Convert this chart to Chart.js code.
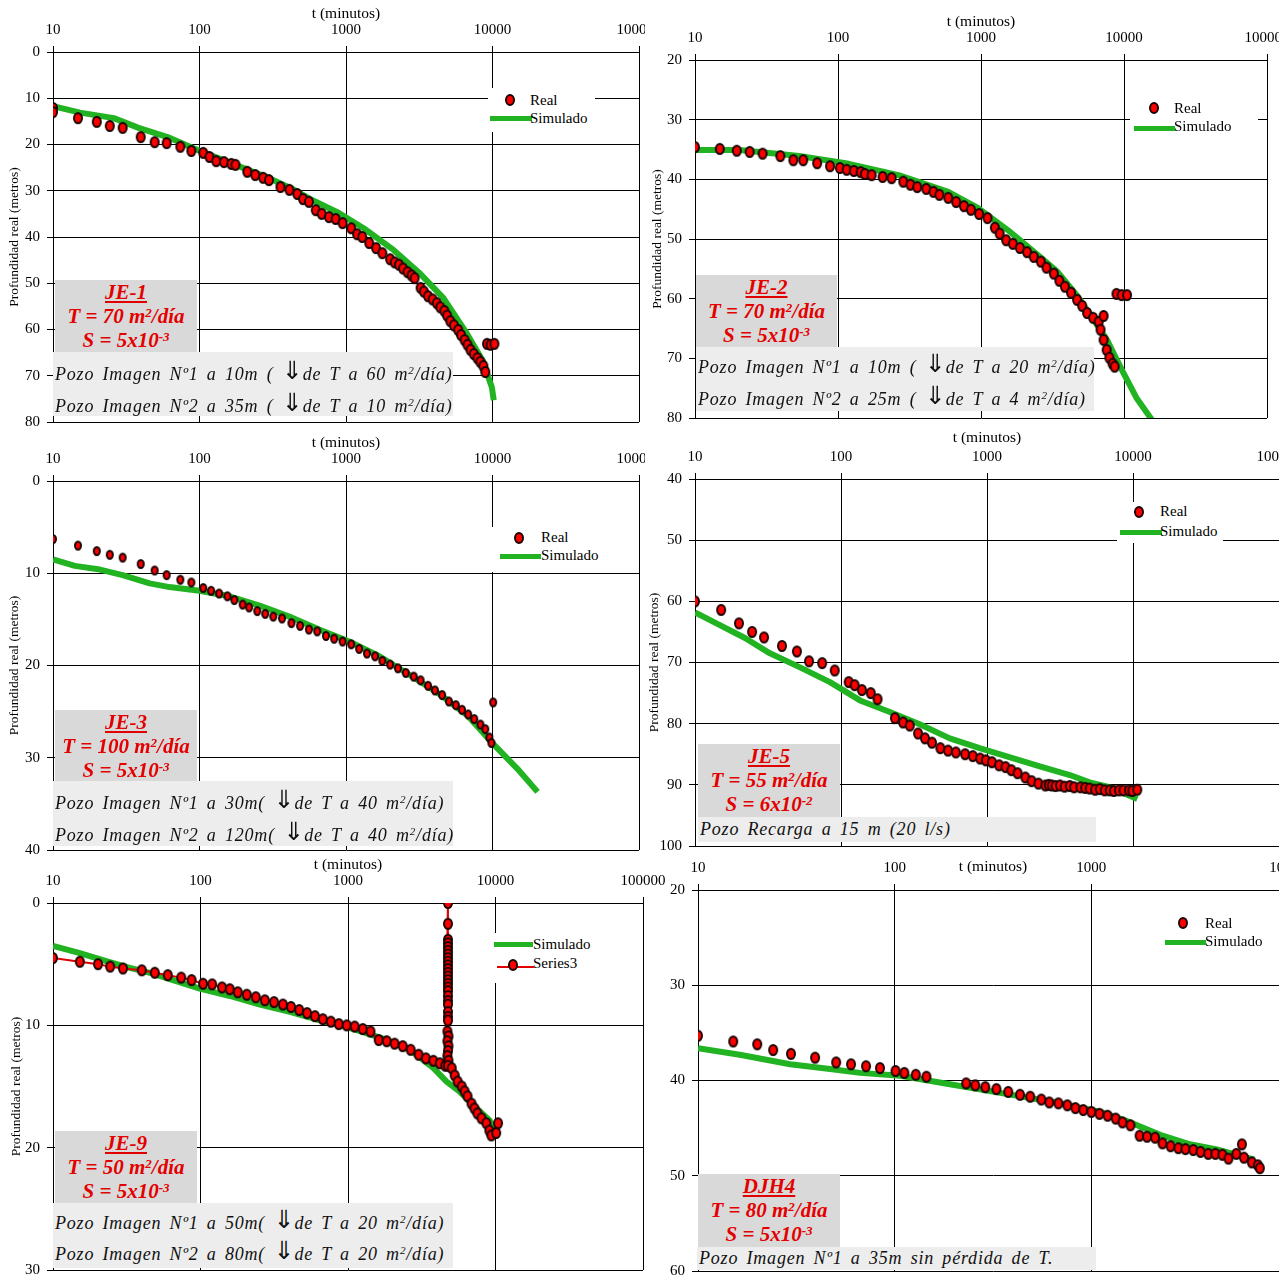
<!DOCTYPE html>
<html lang="es">
<head>
<meta charset="utf-8">
<title>Profundidad real y simulada</title>
<script src="https://cdn.jsdelivr.net/npm/chart.js@4.4.1/dist/chart.umd.min.js"></script>
<style>
  html, body { margin:0; padding:0; background:#fff; }
  #page { position:relative; width:1279px; height:1277px; overflow:hidden; background:#fff; }
  #page canvas { position:absolute; }
  .note { position:absolute; box-sizing:border-box; background:#d9d9d9; color:#e30000;
          font:italic bold 21px "Liberation Serif", serif; line-height:24px; text-align:center; white-space:nowrap; }
  .note sup, .memo sup { font-size:62%; line-height:0; vertical-align:0.5em; }
  .memo { position:absolute; box-sizing:border-box; background:#ededed; color:#111;
          font:italic 18px "Liberation Serif", serif; white-space:nowrap; padding-left:2px;
          letter-spacing:0.8px; word-spacing:3px; }
  .memo .arr { font:normal 25px "DejaVu Sans", sans-serif; letter-spacing:0; line-height:0; vertical-align:1px; }
  .lg { position:absolute; background:#fff; }
  .lgt { position:absolute; font:15px "Liberation Serif", serif; line-height:18px; color:#000; white-space:nowrap; }
  .dot { position:absolute; box-sizing:border-box; background:#f00; border:2px solid #1c0000; border-radius:50%; }
  .bar { position:absolute; }
</style>
</head>
<body>
<div id="page"></div>
<script>
// ---- axis ticks -------------------------------------------------------
const X_TICKS      = [10, 100, 1000, 10000, 100000];
const X_TICKS_DJH4 = [10, 100, 1000, 10000];
const Y_TICKS_JE1  = [0, 10, 20, 30, 40, 50, 60, 70, 80];
const Y_TICKS_JE2  = [20, 30, 40, 50, 60, 70, 80];
const Y_TICKS_JE3  = [0, 10, 20, 30, 40];
const Y_TICKS_JE5  = [40, 50, 60, 70, 80, 90, 100];
const Y_TICKS_JE9  = [0, 10, 20, 30];
const Y_TICKS_DJH4 = [20, 30, 40, 50, 60];

// ---- JE-1 -------------------------------------------------------------
const je1RealT = [10, 10, 14.8, 19.9, 24.4, 29.9, 39.7, 49.4, 59.7, 74, 88, 106, 117, 130, 147, 165, 176, 212, 240, 272, 298, 357, 411, 465, 509, 558, 622, 683, 765, 850, 948, 1085, 1190, 1290, 1440, 1605, 1770, 2000, 2150, 2300, 2450, 2630, 2800, 2940, 3230, 3400, 3630, 3900, 4170, 4400, 4690, 4900, 5150, 5450, 5830, 6100, 6450, 6750, 7070, 7450, 7890, 8250, 8660, 8930, 9180, 9700, 10300];
const je1RealD = [12.1, 13.0, 14.3, 15.1, 16.0, 16.4, 18.4, 19.5, 19.7, 20.5, 21.4, 21.8, 22.7, 23.6, 23.8, 24.2, 24.4, 25.9, 26.6, 27.2, 27.7, 29.2, 29.8, 30.7, 31.8, 32.4, 34.2, 35.0, 35.7, 36.1, 37.0, 38.1, 39.4, 40.0, 41.3, 42.4, 43.5, 44.8, 45.5, 46.0, 46.8, 47.6, 48.3, 48.9, 51.0, 51.8, 52.8, 53.5, 54.3, 55.2, 56.0, 57.0, 58.2, 59.1, 60.1, 61.2, 62.3, 63.3, 64.4, 65.3, 66.2, 67.0, 67.9, 69.2, 63.1, 63.3, 63.1];
const je1SimT  = [10, 15.3, 26, 38.4, 60.6, 97, 176, 294, 442, 587, 894, 1320, 2110, 3130, 4630, 6660, 8660, 9300, 9900, 10200];
const je1SimD  = [11.7, 13.1, 14.3, 16.4, 18.4, 21.2, 24.4, 27.2, 29.8, 32.0, 34.8, 38.1, 42.8, 47.6, 53.2, 60.8, 67.0, 70.0, 72.5, 75.3];

// ---- JE-2 -------------------------------------------------------------
const je2RealT = [10, 14.9, 19.6, 24.1, 29.7, 39.5, 48.7, 57.1, 71.5, 88, 103, 115, 129, 144, 154, 172, 205, 237, 286, 321, 358, 414, 465, 512, 590, 670, 760, 850, 970, 1110, 1250, 1350, 1500, 1670, 1870, 2100, 2340, 2620, 2870, 3230, 3530, 3860, 4260, 4700, 5100, 5520, 6080, 6650, 7200, 6850, 7200, 7560, 7900, 8320, 8600, 8860, 9640, 10500];
const je2RealD = [34.6, 34.9, 35.2, 35.4, 35.7, 36.1, 36.8, 36.8, 37.3, 37.8, 38.1, 38.4, 38.6, 38.8, 39.1, 39.3, 39.6, 39.8, 40.4, 40.9, 41.3, 41.6, 42.1, 42.6, 43.1, 43.8, 44.5, 45.1, 45.8, 46.5, 48.1, 49.1, 50.2, 50.8, 51.5, 52.2, 53.0, 53.8, 54.8, 55.8, 57.0, 58.0, 59.0, 60.2, 61.2, 62.4, 63.2, 63.9, 62.9, 65.2, 66.9, 68.6, 69.9, 70.9, 71.4, 59.2, 59.4, 59.4];
const je2SimT  = [10, 20.5, 53.5, 119, 265, 590, 950, 1540, 2500, 3430, 4700, 6000, 7600, 9640, 12200, 16200];
const je2SimD  = [35.1, 35.1, 36.1, 37.4, 39.3, 42.1, 44.8, 48.5, 52.7, 55.5, 59.5, 63.2, 66.9, 71.9, 76.6, 80.8];

// ---- JE-3 -------------------------------------------------------------
const je3RealT = [10, 14.8, 19.9, 24.4, 29.9, 39.7, 49.4, 59.7, 74, 88, 106, 120, 136, 155, 173, 197, 218, 248, 281, 319, 366, 424, 486, 558, 636, 730, 830, 948, 1085, 1230, 1390, 1580, 1770, 2000, 2260, 2560, 2900, 3230, 3630, 4050, 4530, 5040, 5620, 6190, 6820, 7500, 8270, 8930, 9520, 9830, 10100];
const je3RealD = [6.3, 7.0, 7.6, 8.0, 8.3, 9.0, 9.7, 10.2, 10.7, 11.0, 11.6, 11.9, 12.2, 12.5, 12.9, 13.4, 13.7, 14.1, 14.4, 14.7, 14.9, 15.4, 15.7, 16.1, 16.3, 16.8, 17.1, 17.4, 17.7, 18.2, 18.7, 19.0, 19.5, 19.9, 20.3, 20.8, 21.2, 21.6, 22.2, 22.7, 23.2, 23.9, 24.3, 24.8, 25.3, 25.8, 26.4, 26.9, 27.8, 28.4, 24.0];
const je3SimT  = [10, 14.1, 20.9, 29.9, 45.7, 62.4, 100, 160, 257, 410, 656, 1050, 1690, 2710, 4260, 6820, 10100, 14800, 20300];
const je3SimD  = [8.5, 9.2, 9.6, 10.2, 11.1, 11.5, 11.9, 12.5, 13.5, 14.7, 16.1, 17.4, 19.0, 21.0, 23.0, 25.5, 28.5, 31.2, 33.7];

// ---- JE-5 -------------------------------------------------------------
const je5RealT = [10, 15.1, 20.0, 24.6, 29.7, 39.4, 49.9, 60.4, 74.3, 90.6, 113, 124, 139, 160, 178, 234, 266, 296, 337, 376, 420, 479, 541, 612, 708, 799, 897, 982, 1080, 1210, 1340, 1470, 1620, 1830, 2020, 2250, 2510, 2650, 2780, 2950, 3160, 3400, 3690, 3950, 4360, 4700, 5050, 5500, 5920, 6400, 6930, 7400, 8010, 8600, 9380, 9900, 10700];
const je5RealD = [60.0, 61.4, 63.6, 65.0, 65.9, 67.3, 68.2, 69.8, 70.1, 71.3, 73.2, 73.7, 74.5, 75.0, 76.0, 79.1, 79.8, 80.3, 81.6, 82.4, 83.1, 84.0, 84.4, 84.7, 85.0, 85.3, 85.7, 86.0, 86.3, 86.8, 87.1, 87.6, 88.1, 88.8, 89.4, 89.8, 90.1, 90.0, 90.1, 90.2, 90.1, 90.3, 90.2, 90.4, 90.4, 90.5, 90.6, 90.8, 90.7, 90.9, 90.9, 91.0, 90.9, 90.9, 90.9, 91.0, 90.8];
const je5SimT  = [10, 14.8, 22.0, 32.6, 52.4, 84, 135, 216, 346, 556, 890, 1440, 2300, 3690, 5050, 6930, 10700];
const je5SimD  = [61.8, 63.9, 66.0, 68.5, 70.8, 73.2, 76.2, 78.1, 80.1, 82.4, 84.0, 85.5, 87.0, 88.4, 89.6, 90.4, 92.3];

// ---- JE-9 (measured series joined by a line, in time order) -----------
const je9RealT = [10, 15.2, 20.2, 24.4, 29.8, 40, 49, 60, 74, 87, 104, 120, 140, 158, 179, 206, 237, 273, 315, 362, 411, 467, 528, 597, 675, 765, 866, 980, 1110, 1260, 1420, 1615, 1830, 2070, 2350, 2660, 3010, 3370, 3790, 4190, 4570,
  4760, 4760, 4760, 4760, 4760, 4760, 4760, 4760, 4760, 4760, 4760, 4760, 4760, 4760, 4760, 4760, 4760, 4760, 4760, 4760, 4760, 4760, 4760, 4720, 4800, 4720, 4800, 4760, 4720, 4800, 4760,
  5050, 5290, 5540, 5900, 6180, 6460, 6880, 7200, 7540, 8030, 8670, 9080, 9370, 10100, 10400];
const je9RealD = [4.5, 4.8, 5.0, 5.2, 5.35, 5.5, 5.7, 5.9, 6.1, 6.3, 6.6, 6.65, 6.9, 7.05, 7.3, 7.5, 7.7, 7.95, 8.1, 8.3, 8.5, 8.75, 9.0, 9.25, 9.5, 9.7, 9.9, 10.0, 10.1, 10.3, 10.5, 11.2, 11.3, 11.5, 11.7, 12.0, 12.4, 12.7, 12.9, 13.1, 13.3,
  0, 1.7, 3.0, 3.3, 3.6, 3.9, 4.2, 4.5, 4.8, 5.1, 5.4, 5.7, 6.0, 6.3, 6.6, 6.9, 7.2, 7.6, 8.0, 8.3, 8.9, 9.3, 9.6, 10.5, 10.9, 11.3, 11.7, 12.1, 12.5, 12.9, 13.3,
  13.5, 14.1, 14.6, 15.0, 15.4, 15.8, 16.4, 16.8, 17.2, 17.6, 18.0, 18.6, 19.0, 18.8, 18.0];
const je9SimT  = [10, 14.8, 23.6, 33.2, 46.9, 65.1, 99, 158, 253, 404, 645, 1030, 1650, 2640, 3800, 4660, 5690, 7470, 9160, 10000];
const je9SimD  = [3.5, 4.05, 4.8, 5.3, 5.75, 6.3, 7.0, 7.6, 8.3, 8.9, 9.6, 10.2, 11.0, 12.0, 13.5, 14.6, 15.4, 16.8, 17.8, 19.0];

// ---- DJH4 -------------------------------------------------------------
const djhRealT = [10, 15.1, 20.0, 24.1, 29.7, 39.4, 50.4, 60, 71.5, 84.2, 101, 112, 128, 145, 231, 257, 289, 329, 378, 434, 489, 557, 611, 680, 755, 830, 910, 1000, 1100, 1210, 1330, 1440, 1580, 1760, 1920, 2110, 2300, 2530, 2770, 3010, 3300, 3590, 3930, 4270, 4640, 4980, 5460, 5830, 5970, 6550, 7030, 7190];
const djhRealD = [35.3, 35.9, 36.2, 36.8, 37.2, 37.6, 38.1, 38.3, 38.5, 38.7, 39.0, 39.2, 39.4, 39.6, 40.3, 40.5, 40.7, 40.9, 41.2, 41.5, 41.7, 42.0, 42.3, 42.4, 42.6, 42.9, 43.1, 43.3, 43.5, 43.7, 44.0, 44.4, 44.7, 45.8, 45.9, 46.0, 46.6, 46.9, 47.1, 47.2, 47.3, 47.5, 47.7, 47.7, 47.8, 48.2, 47.7, 46.7, 48.1, 48.6, 48.9, 49.2];
const djhSimT  = [10, 16.3, 29.4, 47, 66.7, 107, 191, 344, 617, 1110, 1580, 2240, 3170, 4480, 6730];
const djhSimD  = [36.6, 37.3, 38.3, 38.8, 39.2, 39.5, 40.4, 41.3, 42.2, 43.3, 44.4, 45.7, 46.7, 47.3, 48.3];

// ---- drawing helpers --------------------------------------------------
const page  = document.getElementById('page');
const FONT  = '"Liberation Serif", "Times New Roman", serif';
const GREEN = '#22b322';
const RED_LINE = '#e00000';
const AXIS_H = 47;

const zip = (t, d) => t.map((v, i) => ({ x: v, y: d[i] }));

// red dot with a dark ring, slightly taller than wide
function marker(w, h) {
  const c = document.createElement('canvas');
  c.width = w + 2; c.height = h + 2;
  const g = c.getContext('2d');
  g.beginPath();
  g.ellipse(c.width / 2, c.height / 2, w / 2 - 1, h / 2 - 1, 0, 0, Math.PI * 2);
  g.fillStyle = '#ff0000'; g.fill();
  g.lineWidth = 2; g.strokeStyle = '#1c0000'; g.stroke();
  return c;
}

const realSet = (t, d, m) => ({ label: 'Real', data: zip(t, d), showLine: false, pointStyle: m, pointRadius: 5 });
const simSet  = (t, d) => ({ label: 'Simulado', data: zip(t, d), showLine: true, borderColor: GREEN, borderWidth: 6,
                             pointRadius: 0, tension: 0, fill: false, borderJoinStyle: 'round' });

function drawPanel(g, xTicks, yTicks, datasets) {
  const cv = document.createElement('canvas');
  cv.width = g.w; cv.height = g.h;
  cv.style.left = g.x + 'px'; cv.style.top = g.y + 'px';
  page.appendChild(cv);
  const grid = { color: '#000', lineWidth: 1, tickLength: 6, tickColor: '#000', drawTicks: true };
  const tickFont = { family: FONT, size: 15 };
  return new Chart(cv, {
    type: 'scatter',
    data: { datasets },
    options: {
      responsive: false, animation: false, devicePixelRatio: 1, events: [],
      layout: { padding: { left: 0, top: g.T - g.y - AXIS_H, right: g.x + g.w - g.R, bottom: g.y + g.h - g.B } },
      plugins: { legend: { display: false }, tooltip: { enabled: false } },
      scales: {
        x: {
          type: 'logarithmic', position: 'top', min: xTicks[0], max: xTicks[xTicks.length - 1],
          afterBuildTicks: s => { s.ticks = xTicks.map(v => ({ value: v })); },
          afterFit: s => { s.height = AXIS_H; s.paddingLeft = 0; s.paddingRight = 0; },
          grid, border: { color: '#000', width: 1 },
          ticks: { font: tickFont, color: '#000', padding: 7, autoSkip: false, maxRotation: 0, callback: v => String(v) },
          title: { display: true, text: 't (minutos)', color: '#000', font: { family: FONT, size: 15.5 },
                   padding: { top: g.xTitleY - g.T + AXIS_H - 9.3, bottom: 0 } }
        },
        y: {
          type: 'linear', position: 'left', reverse: true, min: yTicks[0], max: yTicks[yTicks.length - 1],
          afterBuildTicks: s => { s.ticks = yTicks.map(v => ({ value: v })); },
          afterFit: s => { s.width = g.L - g.x; s.paddingTop = 0; s.paddingBottom = 0; },
          grid, border: { color: '#000', width: 1 },
          ticks: { font: tickFont, color: '#000', padding: 7, autoSkip: false, callback: v => String(v) },
          title: { display: g.yTitleX != null, text: 'Profundidad real (metros)', color: '#000',
                   font: { family: FONT, size: 13.5 }, padding: { top: (g.yTitleX || 0) - g.x - 8.1, bottom: 0 } }
        }
      }
    }
  });
}

function div(cls, x, y, w, h, html, extra) {
  const d = document.createElement('div');
  d.className = cls;
  d.style.left = x + 'px'; d.style.top = y + 'px';
  if (w != null) d.style.width = w + 'px';
  if (h != null) d.style.height = h + 'px';
  if (extra) Object.assign(d.style, extra);
  if (html != null) d.innerHTML = html;
  page.appendChild(d);
  return d;
}

function legend(box, items) {
  if (box) div('lg', box[0], box[1], box[2], box[3]);
  for (const it of items) {
    if (it.dot) div('dot', it.dot[0] - 5, it.dot[1] - 6, 10, 12);
    if (it.bar) div('bar', it.bar[0], it.bar[2] - it.bar[3] / 2, it.bar[1] - it.bar[0], it.bar[3], null, { background: it.bar[4] });
    if (it.text) div('lgt', it.text[0], it.text[1] - 9, null, null, it.text[2]);
  }
}

function note(x, y, w, h, lines) {
  div('note', x, y, w, h, lines.map(l => '<div>' + l + '</div>').join(''));
}
function memo(x, y, w, h, lines, lh, padTop) {
  div('memo', x, y, w, h, lines.map(l => '<div style="height:' + lh + 'px;line-height:' + lh + 'px">' + l + '</div>').join(''),
      { paddingTop: padTop + 'px' });
}

const ARR = '<span class="arr">⇓</span>';
const M2 = 'm<sup>2</sup>/día';

// ---- panels -----------------------------------------------------------
drawPanel({ x: 0, y: 0, w: 645, h: 434, L: 53, T: 52, R: 641, B: 422, xTitleY: 14, yTitleX: 14 },
  X_TICKS, Y_TICKS_JE1, [realSet(je1RealT, je1RealD, marker(10, 12)), simSet(je1SimT, je1SimD)]);

drawPanel({ x: 645, y: 13, w: 634, h: 419, L: 695, T: 60, R: 1267, B: 418, xTitleY: 22, yTitleX: 657 },
  X_TICKS, Y_TICKS_JE2, [realSet(je2RealT, je2RealD, marker(10, 12)), simSet(je2SimT, je2SimD)]);

drawPanel({ x: 0, y: 434, w: 645, h: 422, L: 53, T: 481, R: 641, B: 851, xTitleY: 443, yTitleX: 14 },
  X_TICKS, Y_TICKS_JE3, [realSet(je3RealT, je3RealD, marker(8, 10)), simSet(je3SimT, je3SimD)]);

drawPanel({ x: 645, y: 432, w: 650, h: 424, L: 695, T: 479, R: 1279, B: 846, xTitleY: 438, yTitleX: 654 },
  X_TICKS, Y_TICKS_JE5, [realSet(je5RealT, je5RealD, marker(10, 12)), simSet(je5SimT, je5SimD)]);

drawPanel({ x: 0, y: 856, w: 665, h: 421, L: 53, T: 903, R: 643, B: 1273, xTitleY: 865, yTitleX: 16 },
  X_TICKS, Y_TICKS_JE9, [
    { label: 'Series3', data: zip(je9RealT, je9RealD), showLine: true, borderColor: RED_LINE, borderWidth: 2,
      pointStyle: marker(10, 12), pointRadius: 5, tension: 0 },
    simSet(je9SimT, je9SimD)
  ]);

drawPanel({ x: 665, y: 843, w: 630, h: 434, L: 698, T: 890, R: 1288, B: 1275, xTitleY: 867, yTitleX: null },
  X_TICKS_DJH4, Y_TICKS_DJH4, [realSet(djhRealT, djhRealD, marker(10, 12)), simSet(djhSimT, djhSimD)]);

// ---- legends ----------------------------------------------------------
legend([488, 88, 107, 44], [
  { dot: [510, 100], text: [530, 100, 'Real'] },
  { bar: [490, 532, 118, 5, GREEN], text: [530, 118, 'Simulado'] }]);
legend([1130, 100, 128, 33], [
  { dot: [1154, 108], text: [1174, 108, 'Real'] },
  { bar: [1134, 1175, 128, 5, GREEN], text: [1174, 126, 'Simulado'] }]);
legend([490, 527, 115, 45], [
  { dot: [519, 538], text: [541, 537, 'Real'] },
  { bar: [500, 541, 556, 5, GREEN], text: [541, 555, 'Simulado'] }]);
legend([1117, 502, 106, 41], [
  { dot: [1139, 512], text: [1160, 511, 'Real'] },
  { bar: [1120, 1162, 532, 5, GREEN], text: [1160, 531, 'Simulado'] }]);
legend([490, 933, 110, 50], [
  { bar: [494, 533, 944, 5, GREEN], text: [533, 944, 'Simulado'] },
  { bar: [497, 534, 967, 2, RED_LINE] },
  { dot: [513, 965], text: [533, 963, 'Series3'] }]);
legend(null, [
  { dot: [1183, 923], text: [1205, 923, 'Real'] },
  { bar: [1165, 1206, 942, 5, GREEN], text: [1205, 941, 'Simulado'] }]);

// ---- well notes -------------------------------------------------------
note(55, 280, 142, 72, ['<u>JE-1</u>', 'T = 70 ' + M2, 'S = 5x10<sup>-3</sup>']);
memo(53, 352, 400, 64, ['Pozo  Imagen  Nº1  a  10m  ( ' + ARR + 'de T a 60 ' + M2 + ')',
                        'Pozo  Imagen  Nº2  a  35m  ( ' + ARR + 'de T a 10 ' + M2 + ')'], 32, 6);

note(696, 275, 141, 72, ['<u>JE-2</u>', 'T = 70 ' + M2, 'S = 5x10<sup>-3</sup>']);
memo(696, 347, 398, 64, ['Pozo  Imagen  Nº1  a  10m  ( ' + ARR + 'de T a 20 ' + M2 + ')',
                         'Pozo  Imagen  Nº2  a  25m  ( ' + ARR + 'de T a 4 ' + M2 + ')'], 32, 4);

note(55, 710, 142, 71, ['<u>JE-3</u>', 'T = 100 ' + M2, 'S = 5x10<sup>-3</sup>']);
memo(53, 781, 400, 65, ['Pozo  Imagen  Nº1  a  30m( ' + ARR + 'de T a 40 ' + M2 + ')',
                        'Pozo  Imagen  Nº2  a  120m( ' + ARR + 'de T a 40 ' + M2 + ')'], 32, 6);

note(698, 744, 142, 73, ['<u>JE-5</u>', 'T = 55 ' + M2, 'S = 6x10<sup>-2</sup>']);
memo(698, 817, 398, 25, ['Pozo  Recarga  a  15  m  (20  l/s)'], 25, 0);

note(55, 1131, 142, 72, ['<u>JE-9</u>', 'T = 50 ' + M2, 'S = 5x10<sup>-3</sup>']);
memo(53, 1203, 400, 65, ['Pozo  Imagen  Nº1  a  50m( ' + ARR + 'de T a 20 ' + M2 + ')',
                         'Pozo  Imagen  Nº2  a  80m( ' + ARR + 'de T a 20 ' + M2 + ')'], 31, 5);

note(698, 1174, 142, 73, ['<u>DJH4</u>', 'T = 80 ' + M2, 'S = 5x10<sup>-3</sup>']);
memo(697, 1247, 399, 23, ['Pozo  Imagen  Nº1  a  35m  sin  pérdida  de  T.'], 23, 0);
</script>
</body>
</html>
